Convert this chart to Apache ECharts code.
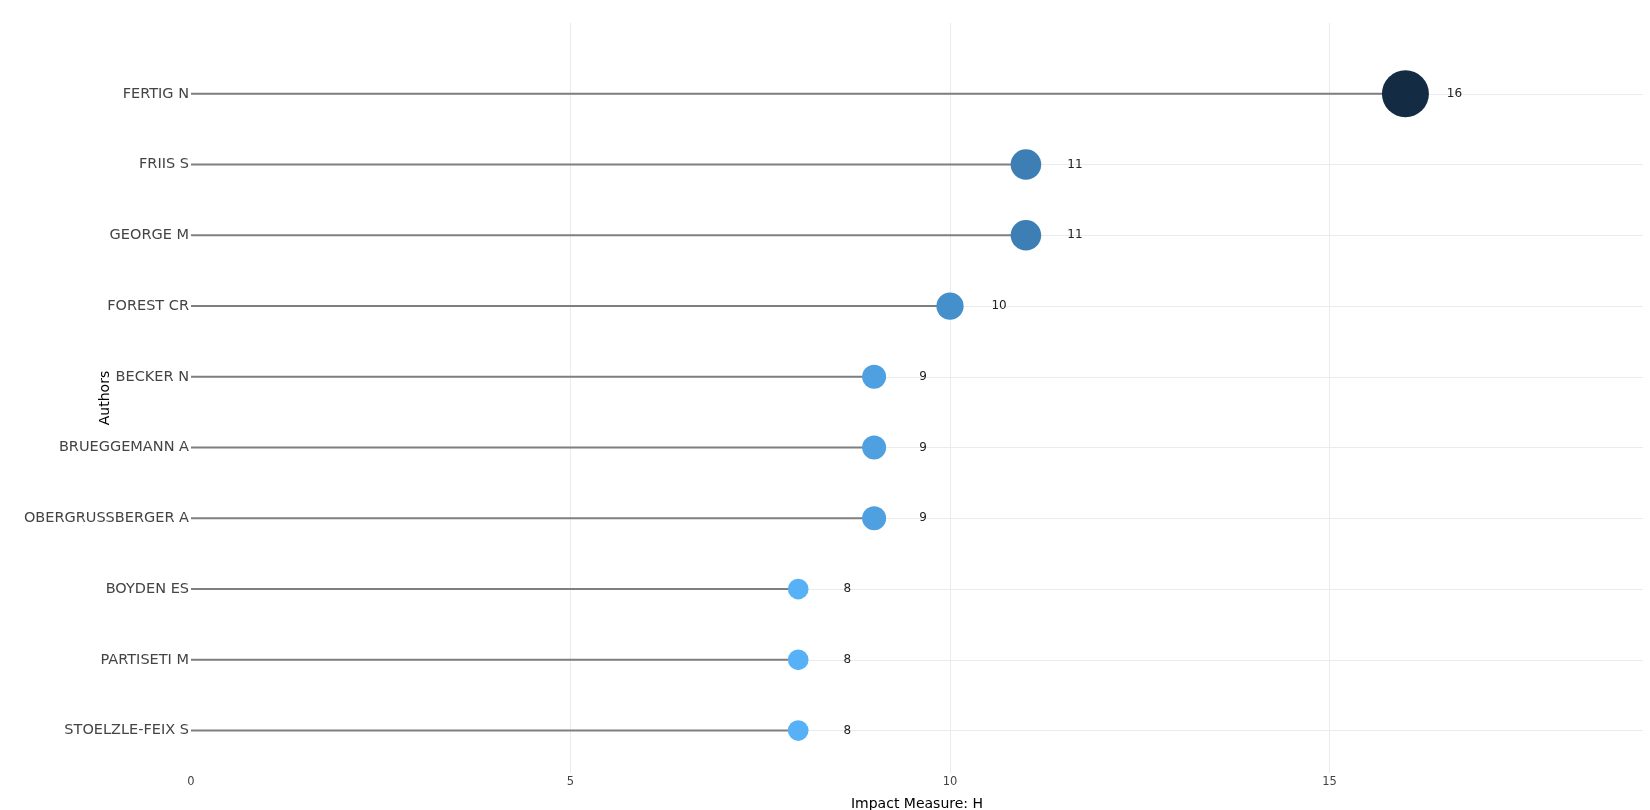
<!DOCTYPE html>
<html>
<head>
<meta charset="utf-8">
<script src="https://cdn.jsdelivr.net/npm/echarts@6/dist/echarts.min.js"></script>
<style>
html,body{margin:0;padding:0;background:#fff;}
#chart{width:1650px;height:810px;}
</style>
</head>
<body>
<div id="chart"></div>
<script>
const authors = ['FERTIG N','FRIIS S','GEORGE M','FOREST CR','BECKER N','BRUEGGEMANN A','OBERGRUSSBERGER A','BOYDEN ES','PARTISETI M','STOELZLE-FEIX S'];
const hIndex = [16, 11, 11, 10, 9, 9, 9, 8, 8, 8];
const xTicks = [0, 5, 10, 15];

const points = hIndex.map((v, i) => [v, i]);
const font = 'DejaVu Sans, Verdana, sans-serif';

const chart = echarts.init(document.getElementById('chart'));
chart.setOption({
  animation: false,
  backgroundColor: '#ffffff',
  grid: { left: 191, right: 7, top: 23, bottom: 37, containLabel: false, outerBoundsMode: 'none' },
  xAxis: {
    type: 'value', min: 0, max: 19.13, interval: 5,
    name: 'Impact Measure: H', nameLocation: 'middle', nameGap: 24, nameMoveOverlap: false,
    nameTextStyle: { color: '#000', fontSize: 14, fontFamily: font },
    axisLine: { show: false }, axisTick: { show: false },
    axisLabel: { color: '#444', fontSize: 11.5, fontFamily: font, margin: 3, showMaxLabel: false,
      formatter: v => xTicks.includes(v) ? String(v) : '' },
    splitLine: { show: true, showMinLine: false, showMaxLine: false, lineStyle: { color: '#ebebeb', width: 1 } }
  },
  yAxis: {
    type: 'value', inverse: true, min: -1, max: 9.6, interval: 1,
    name: 'Authors', nameLocation: 'middle', nameGap: 79, nameRotate: 90, nameMoveOverlap: false,
    nameTextStyle: { color: '#000', fontSize: 14, fontFamily: font },
    axisLine: { show: false }, axisTick: { show: false },
    axisLabel: { color: '#444', fontSize: 14.5, fontFamily: font, margin: 2,
      showMinLabel: false, showMaxLabel: false,
      formatter: v => (Number.isInteger(v) && v >= 0 && v < authors.length) ? authors[v] : '' },
    splitLine: { show: true, showMinLine: false, showMaxLine: false, lineStyle: { color: '#ebebeb', width: 1 } }
  },
  visualMap: {
    show: false, type: 'continuous', seriesIndex: 1, dimension: 0, min: 8, max: 16,
    inRange: { color: ['#56B1F7', '#132B43'], symbolSize: [20.7, 47] }
  },
  series: [
    {
      type: 'custom',
      data: points,
      renderItem: (params, api) => {
        const v = api.value(0), i = api.value(1);
        const p0 = api.coord([0, i]);
        const p1 = api.coord([v, i]);
        return { type: 'line', shape: { x1: p0[0], y1: p0[1], x2: p1[0], y2: p1[1] },
          style: { stroke: '#7f7f7f', lineWidth: 2 } };
      },
      z: 2
    },
    {
      type: 'scatter',
      data: points,
      symbol: 'circle',
      itemStyle: { opacity: 1 },
      z: 3,
      label: {
        show: true, position: 'inside', offset: [49, 0],
        formatter: p => String(p.value[0]),
        color: '#222', fontSize: 12, fontFamily: font
      }
    }
  ]
});
</script>
</body>
</html>
